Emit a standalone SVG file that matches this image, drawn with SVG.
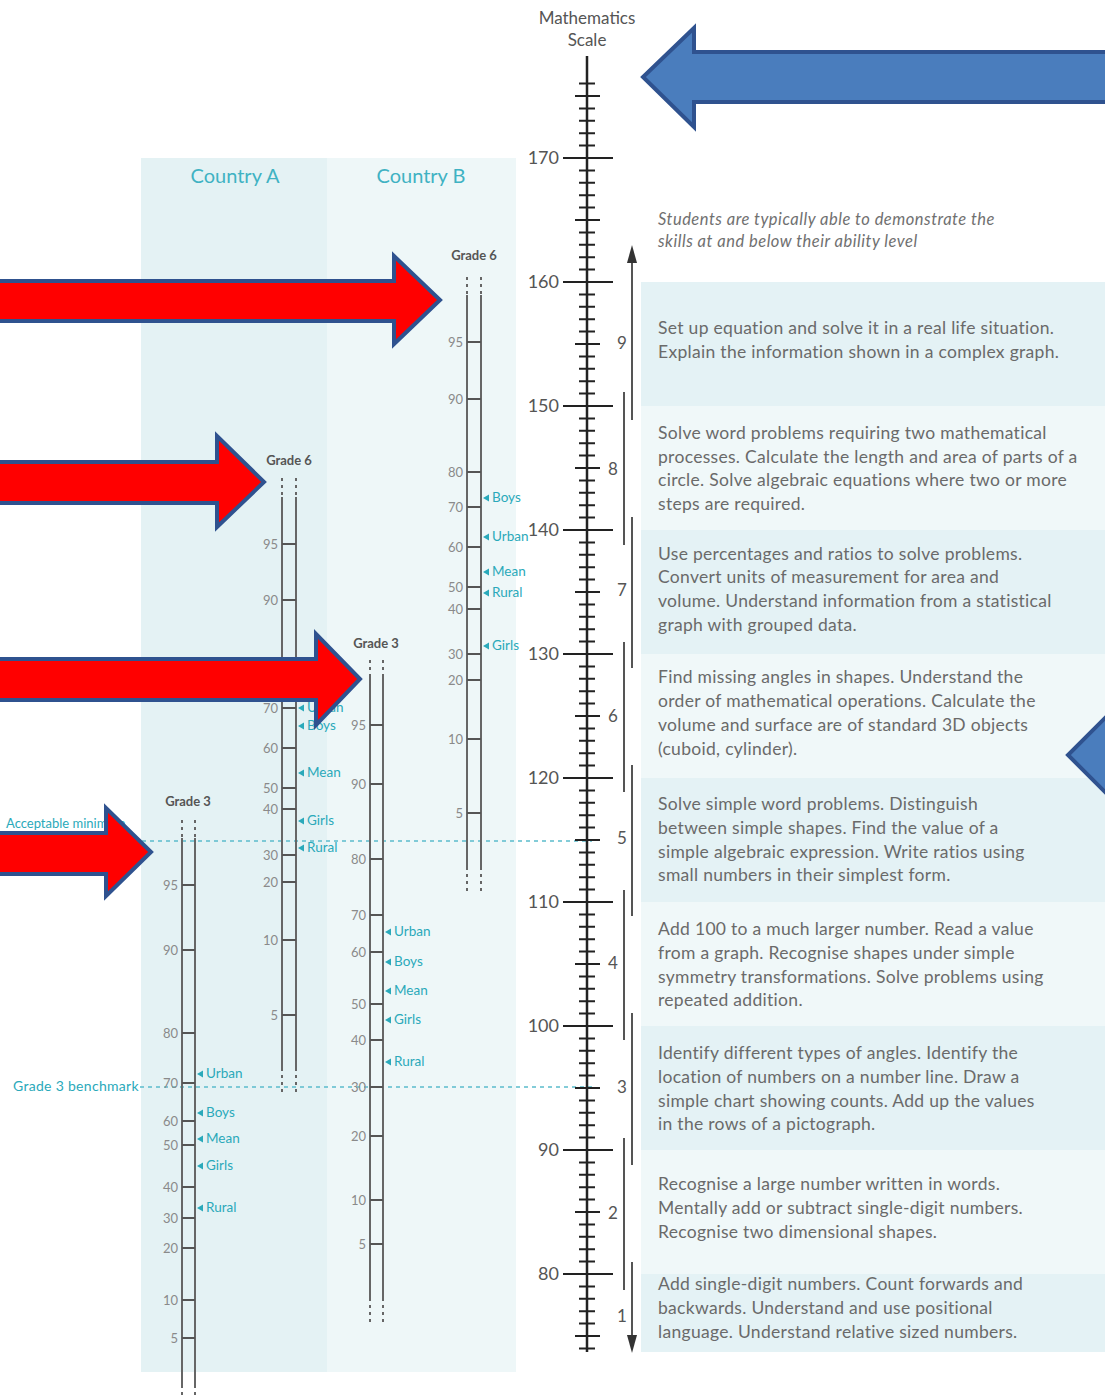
<svg xmlns="http://www.w3.org/2000/svg" width="1105" height="1397" viewBox="0 0 1105 1397">
<style>
.t{font-family:Lato,"Liberation Sans",sans-serif;fill:#6a6a6a;font-size:17.5px;letter-spacing:0.3px}
.hi{font-family:Lato,"Liberation Sans",sans-serif;fill:#707070;font-size:16.5px;font-style:italic;letter-spacing:0.5px}
.sl{font-family:Lato,"Liberation Sans",sans-serif;fill:#555;font-size:18px;text-anchor:end}
.lv{font-family:Lato,"Liberation Sans",sans-serif;fill:#555;font-size:17px;text-anchor:middle}
.pl{font-family:Lato,"Liberation Sans",sans-serif;fill:#8a8a8a;font-size:13px;text-anchor:end}
.mk{font-family:Lato,"Liberation Sans",sans-serif;fill:#2aa9ba;font-size:13.5px}
.gr{font-family:Lato,"Liberation Sans",sans-serif;fill:#555;font-size:13px;font-weight:bold;text-anchor:middle}
.ct{font-family:Lato,"Liberation Sans",sans-serif;fill:#3fb2c3;font-size:20px;text-anchor:middle}
.rail{stroke:#666;stroke-width:2;fill:none}
.dot{stroke:#666;stroke-width:2;stroke-dasharray:3 4;fill:none}
.rung{stroke:#555;stroke-width:2}
.tri{fill:#2aa9ba}
.dash{stroke:#5bbccc;stroke-width:1.5;stroke-dasharray:4 4;fill:none}
.lvl{stroke:#555;stroke-width:2;fill:none}
.red{fill:#ff0000;stroke:#2f528f;stroke-width:4;stroke-linejoin:miter}
.blue{fill:#4a7dbd;stroke:#2f528f;stroke-width:4;stroke-linejoin:miter}
.dark{fill:#e4f2f5}
.light{fill:#f0f8f9}
</style>

<g id="backgrounds">
<rect x="141" y="158" width="186" height="1214" fill="#e4f2f4"/>
<rect x="327" y="158" width="189" height="1214" fill="#eef7f8"/>
<rect class="dark" x="641" y="282" width="464" height="124"/>
<rect class="light" x="641" y="406" width="464" height="124"/>
<rect class="dark" x="641" y="530" width="464" height="124"/>
<rect class="light" x="641" y="654" width="464" height="124"/>
<rect class="dark" x="641" y="778" width="464" height="124"/>
<rect class="light" x="641" y="902" width="464" height="124"/>
<rect class="dark" x="641" y="1026" width="464" height="124"/>
<rect class="light" x="641" y="1150" width="464" height="124"/>
<rect class="dark" x="641" y="1274" width="464" height="78"/>
</g>

<g id="country-headers">
<text class="ct" x="235" y="183">Country A</text>
<text class="ct" x="421" y="183">Country B</text>
</g>

<g id="benchmarks">
<line class="dash" x1="6" y1="841" x2="592" y2="841"/>
<text class="mk" x="6" y="828" style="font-size:13px">Acceptable minimum</text>
<line class="dash" x1="140" y1="1087" x2="592" y2="1087"/>
<text class="mk" x="13" y="1091" style="font-size:14px;letter-spacing:0.3px">Grade 3 benchmark</text>
</g>

<g id="math-scale">
<text class="lv" x="587" y="24" style="font-size:17px">Mathematics</text>
<text class="lv" x="587" y="46" style="font-size:17px">Scale</text>
<line x1="587" y1="56" x2="587" y2="1352" stroke="#222" stroke-width="2.5"/>
<line x1="587" y1="82.6" x2="587" y2="1350" stroke="#222" stroke-width="16" stroke-dasharray="2 10.4"/>
<path d="M575 96H600M575 220H600M575 344H600M575 468H600M575 592H600M575 716H600M575 840H600M575 964H600M575 1088H600M575 1212H600M575 1336H600" stroke="#222" stroke-width="2"/>
<path d="M563 158H613M563 282H613M563 406H613M563 530H613M563 654H613M563 778H613M563 902H613M563 1026H613M563 1150H613M563 1274H613" stroke="#222" stroke-width="2.2"/>
<text class="sl" x="559" y="164">170</text>
<text class="sl" x="559" y="288">160</text>
<text class="sl" x="559" y="412">150</text>
<text class="sl" x="559" y="536">140</text>
<text class="sl" x="559" y="660">130</text>
<text class="sl" x="559" y="784">120</text>
<text class="sl" x="559" y="908">110</text>
<text class="sl" x="559" y="1032">100</text>
<text class="sl" x="559" y="1156">90</text>
<text class="sl" x="559" y="1280">80</text>
</g>

<g id="levels">
<line class="lvl" x1="632" y1="258" x2="632" y2="420"/>
<polygon points="632,245 627,263 637,263" fill="#333"/>
<text class="lv" x="622" y="349">9</text>
<line class="lvl" x1="624" y1="392" x2="624" y2="545"/>
<text class="lv" x="613" y="475">8</text>
<line class="lvl" x1="632" y1="517" x2="632" y2="668"/>
<text class="lv" x="622" y="596">7</text>
<line class="lvl" x1="624" y1="642" x2="624" y2="792"/>
<text class="lv" x="613" y="722">6</text>
<line class="lvl" x1="632" y1="765" x2="632" y2="916"/>
<text class="lv" x="622" y="844">5</text>
<line class="lvl" x1="624" y1="890" x2="624" y2="1040"/>
<text class="lv" x="613" y="969">4</text>
<line class="lvl" x1="632" y1="1013" x2="632" y2="1165"/>
<text class="lv" x="622" y="1093">3</text>
<line class="lvl" x1="624" y1="1138" x2="624" y2="1290"/>
<text class="lv" x="613" y="1219">2</text>
<line class="lvl" x1="632" y1="1262" x2="632" y2="1340"/>
<polygon points="632,1353 627,1335 637,1335" fill="#333"/>
<text class="lv" x="622" y="1322">1</text>
</g>

<g id="descriptions">
<text class="hi" x="658" y="225">Students are typically able to demonstrate the</text>
<text class="hi" x="658" y="247">skills at and below their ability level</text>
<text class="t" x="658" y="334">Set up equation and solve it in a real life situation.</text>
<text class="t" x="658" y="358">Explain the information shown in a complex graph.</text>
<text class="t" x="658" y="439">Solve word problems requiring two mathematical</text>
<text class="t" x="658" y="463">processes. Calculate the length and area of parts of a</text>
<text class="t" x="658" y="486">circle. Solve algebraic equations where two or more</text>
<text class="t" x="658" y="510">steps are required.</text>
<text class="t" x="658" y="560">Use percentages and ratios to solve problems.</text>
<text class="t" x="658" y="583">Convert units of measurement for area and</text>
<text class="t" x="658" y="607">volume. Understand information from a statistical</text>
<text class="t" x="658" y="631">graph with grouped data.</text>
<text class="t" x="658" y="683">Find missing angles in shapes. Understand the</text>
<text class="t" x="658" y="707">order of mathematical operations. Calculate the</text>
<text class="t" x="658" y="731">volume and surface are of standard 3D objects</text>
<text class="t" x="658" y="755">(cuboid, cylinder).</text>
<text class="t" x="658" y="810">Solve simple word problems. Distinguish</text>
<text class="t" x="658" y="834">between simple shapes. Find the value of a</text>
<text class="t" x="658" y="858">simple algebraic expression. Write ratios using</text>
<text class="t" x="658" y="881">small numbers in their simplest form.</text>
<text class="t" x="658" y="935">Add 100 to a much larger number. Read a value</text>
<text class="t" x="658" y="959">from a graph. Recognise shapes under simple</text>
<text class="t" x="658" y="983">symmetry transformations. Solve problems using</text>
<text class="t" x="658" y="1006">repeated addition.</text>
<text class="t" x="658" y="1059">Identify different types of angles. Identify the</text>
<text class="t" x="658" y="1083">location of numbers on a number line. Draw a</text>
<text class="t" x="658" y="1107">simple chart showing counts. Add up the values</text>
<text class="t" x="658" y="1130">in the rows of a pictograph.</text>
<text class="t" x="658" y="1190">Recognise a large number written in words.</text>
<text class="t" x="658" y="1214">Mentally add or subtract single-digit numbers.</text>
<text class="t" x="658" y="1238">Recognise two dimensional shapes.</text>
<text class="t" x="658" y="1290">Add single-digit numbers. Count forwards and</text>
<text class="t" x="658" y="1314">backwards. Understand and use positional</text>
<text class="t" x="658" y="1338">language. Understand relative sized numbers.</text>
</g>

<g id="countryB-grade6">
<text class="gr" x="474" y="260">Grade 6</text>
<path class="dot" d="M467 277V295M481 277V295M467 867V892M481 867V892"/>
<path class="rail" d="M467 295V867M481 295V867"/>
<path class="rung" d="M467 342H481M467 399H481M467 472H481M467 507H481M467 547H481M467 587H481M467 609H481M467 654H481M467 680H481M467 739H481M467 813H481"/>
<text class="pl" x="463" y="347">95</text><text class="pl" x="463" y="404">90</text><text class="pl" x="463" y="477">80</text><text class="pl" x="463" y="512">70</text><text class="pl" x="463" y="552">60</text><text class="pl" x="463" y="592">50</text><text class="pl" x="463" y="614">40</text><text class="pl" x="463" y="659">30</text><text class="pl" x="463" y="685">20</text><text class="pl" x="463" y="744">10</text><text class="pl" x="463" y="818">5</text>
<polygon class="tri" points="483,498 489,494.5 489,501.5"/><text class="mk" x="492" y="502">Boys</text>
<polygon class="tri" points="483,537 489,533.5 489,540.5"/><text class="mk" x="492" y="541">Urban</text>
<polygon class="tri" points="483,572 489,568.5 489,575.5"/><text class="mk" x="492" y="576">Mean</text>
<polygon class="tri" points="483,593 489,589.5 489,596.5"/><text class="mk" x="492" y="597">Rural</text>
<polygon class="tri" points="483,646 489,642.5 489,649.5"/><text class="mk" x="492" y="650">Girls</text>
</g>

<g id="countryA-grade6">
<text class="gr" x="289" y="465">Grade 6</text>
<path class="dot" d="M282 478V497M296 478V497M282 1068V1095M296 1068V1095"/>
<path class="rail" d="M282 497V1068M296 497V1068"/>
<path class="rung" d="M282 544H296M282 600H296M282 673H296M282 708H296M282 748H296M282 788H296M282 809H296M282 855H296M282 882H296M282 940H296M282 1015H296"/>
<text class="pl" x="278" y="549">95</text><text class="pl" x="278" y="605">90</text><text class="pl" x="278" y="678">80</text><text class="pl" x="278" y="713">70</text><text class="pl" x="278" y="753">60</text><text class="pl" x="278" y="793">50</text><text class="pl" x="278" y="814">40</text><text class="pl" x="278" y="860">30</text><text class="pl" x="278" y="887">20</text><text class="pl" x="278" y="945">10</text><text class="pl" x="278" y="1020">5</text>
<polygon class="tri" points="298,708 304,704.5 304,711.5"/><text class="mk" x="307" y="712">Urban</text>
<polygon class="tri" points="298,726 304,722.5 304,729.5"/><text class="mk" x="307" y="730">Boys</text>
<polygon class="tri" points="298,773 304,769.5 304,776.5"/><text class="mk" x="307" y="777">Mean</text>
<polygon class="tri" points="298,821 304,817.5 304,824.5"/><text class="mk" x="307" y="825">Girls</text>
<polygon class="tri" points="298,848 304,844.5 304,851.5"/><text class="mk" x="307" y="852">Rural</text>
</g>

<g id="countryB-grade3">
<text class="gr" x="376" y="648">Grade 3</text>
<path class="dot" d="M370 660V677M383 660V677M370 1298V1323M383 1298V1323"/>
<path class="rail" d="M370 677V1298M383 677V1298"/>
<path class="rung" d="M370 725H383M370 784H383M370 859H383M370 915H383M370 952H383M370 1004H383M370 1040H383M370 1087H383M370 1136H383M370 1200H383M370 1244H383"/>
<text class="pl" x="366" y="730">95</text><text class="pl" x="366" y="789">90</text><text class="pl" x="366" y="864">80</text><text class="pl" x="366" y="920">70</text><text class="pl" x="366" y="957">60</text><text class="pl" x="366" y="1009">50</text><text class="pl" x="366" y="1045">40</text><text class="pl" x="366" y="1092">30</text><text class="pl" x="366" y="1141">20</text><text class="pl" x="366" y="1205">10</text><text class="pl" x="366" y="1249">5</text>
<polygon class="tri" points="385,932 391,928.5 391,935.5"/><text class="mk" x="394" y="936">Urban</text>
<polygon class="tri" points="385,962 391,958.5 391,965.5"/><text class="mk" x="394" y="966">Boys</text>
<polygon class="tri" points="385,991 391,987.5 391,994.5"/><text class="mk" x="394" y="995">Mean</text>
<polygon class="tri" points="385,1020 391,1016.5 391,1023.5"/><text class="mk" x="394" y="1024">Girls</text>
<polygon class="tri" points="385,1062 391,1058.5 391,1065.5"/><text class="mk" x="394" y="1066">Rural</text>
</g>

<g id="countryA-grade3">
<text class="gr" x="188" y="806">Grade 3</text>
<path class="dot" d="M182 820V838M195 820V838M182 1385V1400M195 1385V1400"/>
<path class="rail" d="M182 838V1385M195 838V1385"/>
<path class="rung" d="M182 885H195M182 950H195M182 1033H195M182 1083H195M182 1121H195M182 1145H195M182 1187H195M182 1218H195M182 1248H195M182 1300H195M182 1338H195"/>
<text class="pl" x="178" y="890">95</text><text class="pl" x="178" y="955">90</text><text class="pl" x="178" y="1038">80</text><text class="pl" x="178" y="1088">70</text><text class="pl" x="178" y="1126">60</text><text class="pl" x="178" y="1150">50</text><text class="pl" x="178" y="1192">40</text><text class="pl" x="178" y="1223">30</text><text class="pl" x="178" y="1253">20</text><text class="pl" x="178" y="1305">10</text><text class="pl" x="178" y="1343">5</text>
<polygon class="tri" points="197,1074 203,1070.5 203,1077.5"/><text class="mk" x="206" y="1078">Urban</text>
<polygon class="tri" points="197,1113 203,1109.5 203,1116.5"/><text class="mk" x="206" y="1117">Boys</text>
<polygon class="tri" points="197,1139 203,1135.5 203,1142.5"/><text class="mk" x="206" y="1143">Mean</text>
<polygon class="tri" points="197,1166 203,1162.5 203,1169.5"/><text class="mk" x="206" y="1170">Girls</text>
<polygon class="tri" points="197,1208 203,1204.5 203,1211.5"/><text class="mk" x="206" y="1212">Rural</text>
</g>

<g id="connectors">
<polygon id="red-arrow-1" class="red" points="-5,281 394,281 394,256 440,300 394,344 394,321 -5,321"/>
<polygon id="red-arrow-2" class="red" points="-5,462 217,462 217,436 264,482 217,527 217,503 -5,503"/>
<polygon id="red-arrow-3" class="red" points="-5,659 316,659 316,634 360,679 316,725 316,700 -5,700"/>
<polygon id="red-arrow-4" class="red" points="-5,833 106,833 106,808 151,852 106,896 106,874 -5,874"/>
<polygon id="blue-arrow-top" class="blue" points="1112,52 694,52 694,28 643,77 694,127 694,102 1112,102"/>
<polygon id="blue-arrow-right" class="blue" points="1112,711 1068,755 1112,799"/>
</g>
</svg>
